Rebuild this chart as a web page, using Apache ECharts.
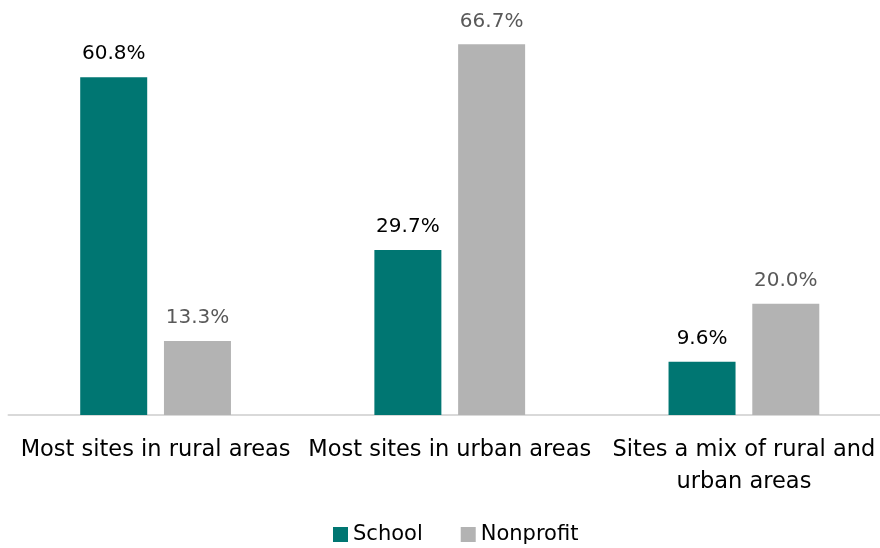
<!DOCTYPE html>
<html>
<head>
<meta charset="utf-8">
<script src="https://cdn.jsdelivr.net/npm/echarts@6/dist/echarts.min.js"></script>
<style>
  html, body { margin: 0; padding: 0; background: #fff; overflow: hidden; }
  /* the plot runs a little past the right edge of the page */
  #chart { width: 891px; height: 548px; }
</style>
</head>
<body>
<div id="chart"></div>
<script>
// Share of sites by location type, by sponsor type
const categories = [
  'Most sites in rural areas',
  'Most sites in urban areas',
  'Sites a mix of rural and\nurban areas'
];
const schoolValues = [60.8, 29.7, 9.6];
const nonprofitValues = [13.3, 66.7, 20.0];
const seriesNames = ['School', 'Nonprofit'];

const FONT = '"DejaVu Sans", sans-serif';
const chart = echarts.init(document.getElementById('chart'), null, { renderer: 'canvas' });

const labelFmt = p => p.value.toFixed(1) + '%';

chart.setOption({
  animation: false,
  grid: { left: 8.5, right: 0, top: 26, bottom: 133, containLabel: false },
  legend: {
    top: 519,
    left: 328,
    itemWidth: 15,
    itemHeight: 15,
    itemGap: 38,
    icon: 'rect',
    textStyle: { fontFamily: FONT, fontSize: 21, color: '#000' },
    data: seriesNames
  },
  xAxis: {
    type: 'category',
    data: categories,
    axisLine: { lineStyle: { color: '#d9d9d9', width: 2 } },
    axisTick: { show: false },
    axisLabel: {
      interval: 0,
      margin: 19,
      fontFamily: FONT,
      fontSize: 22.5,
      lineHeight: 32,
      color: '#000'
    }
  },
  yAxis: {
    type: 'value',
    min: 0,
    max: 70,
    show: false,
    splitLine: { show: false }
  },
  series: [
    {
      name: seriesNames[0],
      type: 'bar',
      data: schoolValues,
      barWidth: 67,
      barGap: '25%',
      itemStyle: { color: '#007672' },
      label: {
        show: true,
        position: 'top',
        distance: 13,
        formatter: labelFmt,
        fontFamily: FONT,
        fontSize: 20,
        color: '#000'
      }
    },
    {
      name: seriesNames[1],
      type: 'bar',
      data: nonprofitValues,
      barWidth: 67,
      itemStyle: { color: '#b3b3b3' },
      label: {
        show: true,
        position: 'top',
        distance: 13,
        formatter: labelFmt,
        fontFamily: FONT,
        fontSize: 20,
        color: '#595959'
      }
    }
  ]
});
</script>
</body>
</html>
